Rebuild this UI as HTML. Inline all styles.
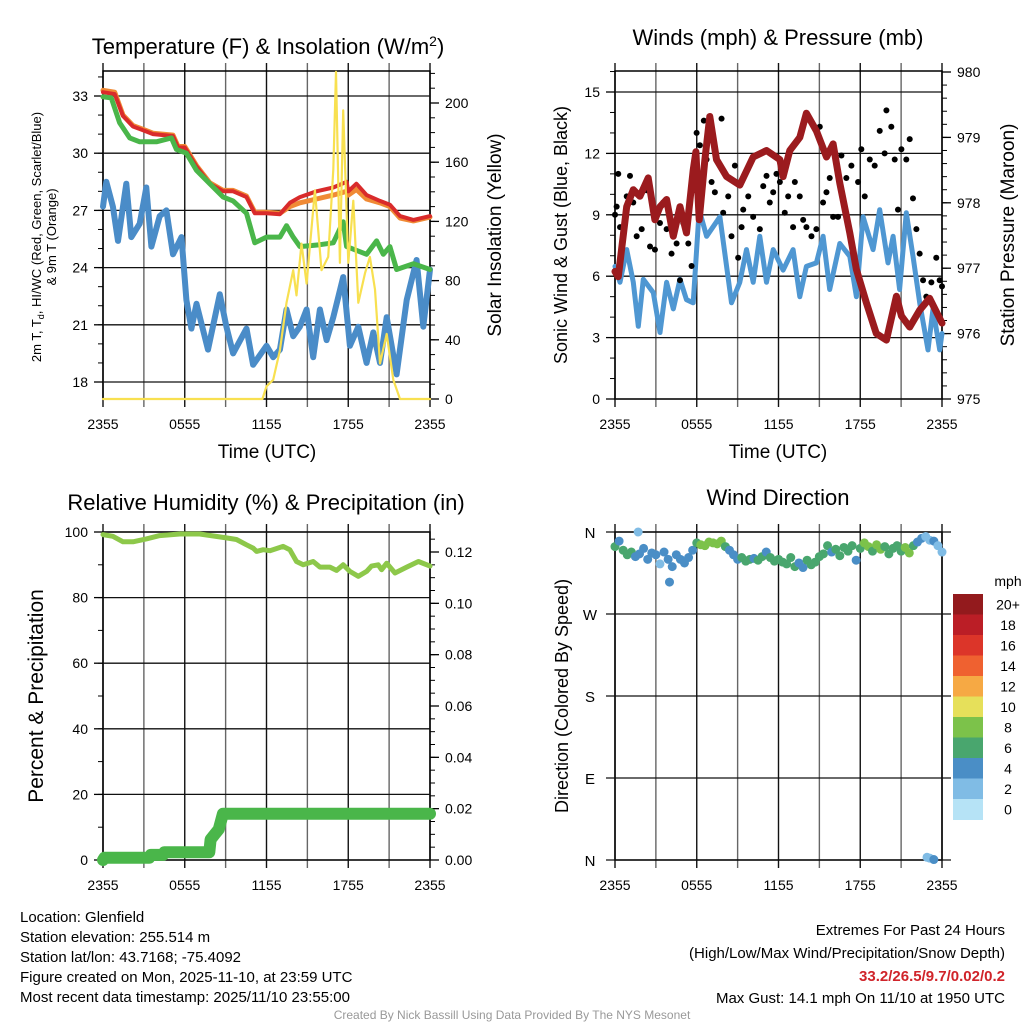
<!DOCTYPE html>
<html><head><meta charset="utf-8"><title>Glenfield Meteogram</title>
<style>
html,body{margin:0;padding:0;background:#fff;}
svg{display:block;font-family:"Liberation Sans",Arial,sans-serif;}
</style></head>
<body>
<svg id="chart" width="1024" height="1024" viewBox="0 0 1024 1024">
<rect x="0" y="0" width="1024" height="1024" fill="#fff"/>
<g id="layer"></g>
<text x="268" y="54" font-size="22" text-anchor="middle">Temperature (F) &amp; Insolation (W/m<tspan dy="-8" font-size="14">2</tspan><tspan dy="8">)</tspan></text>
<text x="778" y="45" font-size="22" text-anchor="middle">Winds (mph) &amp; Pressure (mb)</text>
<text x="266" y="510" font-size="22" text-anchor="middle">Relative Humidity (%) &amp; Precipitation (in)</text>
<text x="778" y="505" font-size="22" text-anchor="middle">Wind Direction</text>
<text x="267" y="458" font-size="19" text-anchor="middle">Time (UTC)</text>
<text x="778" y="458" font-size="19" text-anchor="middle">Time (UTC)</text>
<text transform="translate(41,237) rotate(-90)" font-size="13" text-anchor="middle">2m T, T<tspan dy="3" font-size="9">d</tspan><tspan dy="-3">, HI/WC (Red, Green, Scarlet/Blue)</tspan></text>
<text transform="translate(56,237) rotate(-90)" font-size="13" text-anchor="middle">&amp; 9m T (Orange)</text>
<text transform="translate(501,235) rotate(-90)" font-size="19" text-anchor="middle">Solar Insolation (Yellow)</text>
<text transform="translate(567,235) rotate(-90)" font-size="18" text-anchor="middle">Sonic Wind &amp; Gust (Blue, Black)</text>
<text transform="translate(1014,235) rotate(-90)" font-size="19" text-anchor="middle">Station Pressure (Maroon)</text>
<text transform="translate(43,696) rotate(-90)" font-size="21" text-anchor="middle">Percent &amp; Precipitation</text>
<text transform="translate(568,696) rotate(-90)" font-size="18" text-anchor="middle">Direction (Colored By Speed)</text>
<g font-size="15">
<text x="20" y="922">Location: Glenfield</text>
<text x="20" y="942">Station elevation: 255.514 m</text>
<text x="20" y="962">Station lat/lon: 43.7168; -75.4092</text>
<text x="20" y="982">Figure created on Mon, 2025-11-10, at 23:59 UTC</text>
<text x="20" y="1002">Most recent data timestamp: 2025/11/10 23:55:00</text>
</g>
<g font-size="15" text-anchor="end">
<text x="1005" y="935">Extremes For Past 24 Hours</text>
<text x="1005" y="958">(High/Low/Max Wind/Precipitation/Snow Depth)</text>
<text x="1005" y="981" fill="#d0242a" font-weight="bold">33.2/26.5/9.7/0.02/0.2</text>
<text x="1005" y="1003">Max Gust: 14.1 mph On 11/10 at 1950 UTC</text>
</g>
<text x="512" y="1019" font-size="12" fill="#999" text-anchor="middle">Created By Nick Bassill Using Data Provided By The NYS Mesonet</text>
</svg>
<script>
// ---------- Data (time in hours since 2355 UTC) ----------
const xTickLabels = ["2355","0555","1155","1755","2355"];
const tempT = [0,0.86,1.47,2.2,2.94,3.67,5.14,5.51,6.0,6.86,7.84,8.82,9.55,10.53,11.14,12.0,12.98,13.72,14.45,15.67,16.9,17.88,18.0,18.6,19.35,20.33,21.06,21.8,22.78,24];
const tempV = [33.2,33.1,31.95,31.4,31.2,31.0,30.9,30.3,30.3,29.3,28.4,28.0,28.0,27.7,26.85,26.85,26.8,27.4,27.7,28.0,28.2,28.5,28.0,28.4,27.8,27.5,27.3,26.7,26.5,26.7];
const temp9V = [33.3,33.2,32.0,31.45,31.25,31.05,30.95,30.35,30.35,29.35,28.45,28.05,28.05,27.75,26.9,26.9,26.85,27.2,27.4,27.6,27.8,28.0,27.8,28.1,27.6,27.4,27.2,26.6,26.45,26.65];
const hiT = [0,0.61,1.22,1.96,2.69,3.92,5.02,5.39,6.12,6.86,7.84,8.82,9.55,10.53,11.14,12,12.98,13.47,13.96,14.45,15.92,16.9,17.63,17.88,18.61,19.35,20.08,20.57,21.06,21.55,22.78,24];
const hiV = [32.96,32.9,31.6,30.8,30.6,30.6,30.8,30.2,30.0,29.1,28.4,27.7,27.5,26.85,25.3,25.6,25.6,26.2,25.6,25.1,25.2,25.3,26.4,25.1,24.9,24.7,25.4,24.7,25.1,23.9,24.2,23.9];
const dewT = [0,0.24,0.73,1.1,1.71,2.08,2.69,3.18,3.55,4.16,4.65,5.14,5.76,6.12,6.49,6.86,7.71,8.57,9.06,9.55,10.53,11.02,12,12.49,12.98,13.47,13.96,14.45,14.94,15.43,15.92,16.41,16.9,17.63,18.12,18.74,19.35,19.84,20.33,20.82,21.55,22.29,23.02,23.51,24];
const dewV = [27.2,28.5,27.2,25.4,28.4,25.6,26.3,28.2,25.1,26.7,27.0,24.7,25.6,22.3,20.8,22.1,19.7,22.6,20.9,19.5,20.8,18.9,19.9,19.3,19.7,21.8,20.4,20.9,21.8,19.3,21.8,20.2,21.4,23.5,19.9,20.9,19.0,20.6,19.0,21.4,18.4,22.3,24.4,20.9,23.9];
const solT = [0,11.7,12.0,12.49,12.98,13.47,13.96,14.2,14.57,14.94,15.55,16.04,16.53,16.9,17.1,17.39,17.63,18.0,18.37,18.74,19.23,19.59,19.96,20.33,20.82,21.31,21.8,24];
const solV = [0,0,8.5,13,33,65,87,70,105,78,141,87,96,155,221,92,195,92,134,65,85,96,74,24,44,13,0,0];
const windT = [0,0.37,0.86,1.34,1.71,2.08,2.81,3.3,3.79,4.28,4.77,5.25,5.74,6.18,6.72,7.7,8.55,9.16,9.65,10.14,10.63,11.12,11.61,12.34,13.07,13.56,14.05,14.78,15.27,15.76,16.5,17.23,17.72,18.21,18.94,19.43,20.04,20.41,20.89,21.38,21.87,22.36,22.97,23.34,23.83,24];
const windV = [6.48,5.7,7.3,5.7,3.55,5.85,5.2,3.25,5.7,4.4,5.85,4.85,4.7,9.25,7.95,8.9,4.7,5.7,7.3,5.7,7.95,5.7,7.3,6.3,7.3,5.0,6.48,6.65,7.95,5.35,7.6,6.97,5.0,8.9,7.3,9.25,6.65,7.95,5.35,9.1,6.97,4.7,2.4,4.4,2.4,3.2];
const gustT = [0,0.12,0.24,0.37,0.49,0.86,1.1,1.34,1.59,1.96,2.32,2.57,2.93,3.3,3.54,3.79,4.15,4.52,4.77,5.01,5.38,5.62,5.74,5.99,6.23,6.52,6.72,7.09,7.33,7.82,7.94,8.31,8.55,8.8,9.04,9.29,9.41,9.78,10.14,10.63,10.88,11.12,11.36,11.61,11.85,12.1,12.46,12.71,13.07,13.2,13.56,13.81,14.05,14.42,14.78,15.03,15.27,15.52,15.76,16.01,16.37,16.62,16.98,17.35,17.84,18.08,18.33,18.7,19.06,19.43,19.79,19.92,20.28,20.53,20.77,21.02,21.38,21.63,21.87,22.12,22.36,22.61,22.85,23.22,23.58,23.83,24];
const gustV = [9.0,9.4,11.0,8.4,7.45,9.9,10.9,9.6,7.95,8.3,10.2,7.45,7.3,8.6,9.6,8.3,7.1,7.6,5.8,8.6,7.6,6.5,10.2,13.0,12.4,13.6,11.7,10.6,10.1,13.7,9.1,9.9,7.95,11.4,6.9,8.4,9.25,9.9,8.9,8.3,10.4,10.9,9.6,10.1,11.0,10.6,9.1,9.9,8.4,10.6,9.9,8.75,8.4,7.95,8.3,13.3,9.6,10.1,10.8,8.9,8.9,11.9,10.8,11.4,10.6,12.2,9.9,11.7,11.4,13.1,12.0,14.1,13.3,11.7,9.25,12.2,11.7,12.7,9.8,8.3,7.1,5.8,5.0,5.7,6.9,5.8,5.5];
const presT = [0,0.24,0.86,1.34,1.83,2.44,2.93,3.3,3.79,4.28,4.77,5.25,5.74,5.94,6.18,6.6,6.96,7.45,8.19,9.16,10.14,11.12,12.1,12.34,12.83,13.56,14.05,14.78,15.52,16.01,16.5,17.23,17.72,18.45,19.18,19.92,20.65,21.02,21.63,22.36,23.09,24];
const presV = [976.95,976.87,977.94,978.2,978.1,978.38,977.74,977.94,978.05,977.49,977.94,977.54,978.5,978.78,977.74,978.66,979.32,978.66,978.4,978.27,978.7,978.8,978.66,978.4,978.8,979.0,979.37,979.1,978.7,978.9,978.3,977.54,976.98,976.47,976.0,975.9,976.57,976.27,976.1,976.36,976.54,976.16];
const rhT = [0,0.73,1.47,2.2,3.18,4.16,5.63,7.1,9.06,9.8,10.53,11.02,11.27,11.76,12.25,13.22,13.71,14.2,14.69,15.43,15.92,16.65,17.14,17.63,18.12,18.74,19.35,19.71,20.2,20.45,20.82,21.43,22.29,23.15,24];
const rhV = [99.2,98.7,97.0,97.0,97.9,98.9,99.4,99.4,98.2,97.7,96.1,95.1,94.1,94.6,94.3,95.6,94.6,91.0,90.0,91.0,89.3,89.3,88.3,90.0,88.0,86.5,88.0,89.6,90.0,88.5,90.5,87.5,89.3,91.0,89.6];
const precT = [0,0.1,3.4,3.5,4.4,4.5,7.8,7.9,8.2,8.5,8.8,24];
const precV = [0,0.0009,0.0009,0.002,0.002,0.003,0.003,0.008,0.010,0.012,0.018,0.018];
const dirT = [0,0.3,0.6,0.9,1.2,1.5,1.8,2.1,2.4,2.7,3.0,3.3,3.6,3.9,4.2,4.5,4.8,5.1,5.4,5.7,6.0,6.3,6.6,6.9,7.2,7.5,7.8,8.1,8.4,8.7,9.0,9.3,9.6,9.9,10.2,10.5,10.8,11.1,11.4,11.7,12.0,12.3,12.6,12.9,13.2,13.5,13.8,14.1,14.4,14.7,15.0,15.3,15.6,15.9,16.2,16.5,16.8,17.1,17.4,17.7,18.0,18.3,18.6,18.9,19.2,19.5,19.8,20.1,20.4,20.7,21.0,21.3,21.6,21.9,22.2,22.5,22.8,23.1,23.4,23.7,24.0,1.7,4.0,22.9,23.1,23.4];
const dirV = [344,350,340,335,338,333,336,342,330,337,335,325,338,330,322,335,330,326,332,340,348,346,345,349,348,347,350,344,340,335,330,332,328,330,331,329,333,338,332,328,330,327,325,332,322,326,321,329,324,327,333,336,345,338,341,334,343,339,345,329,342,348,344,339,346,341,344,336,342,345,339,343,337,345,349,353,355,351,350,345,338,360,305,3,2,0.5];
const speedBins = ["0","2","4","6","8","10","12","14","16","18","20+"];
const speedColors = ["#b6e3f6","#80bce5","#4a8ec6","#49a66e","#7cc24a","#e6e05a","#f6a944","#ef6130","#dc3529","#bb1e26","#931a1d"];

// ---------- Helpers ----------
const NS="http://www.w3.org/2000/svg";
const layer=document.getElementById('layer');
function mk(tag,attrs,parent){const e=document.createElementNS(NS,tag);for(const k in attrs)e.setAttribute(k,attrs[k]);(parent||layer).appendChild(e);return e;}
function lin(d0,d1,r0,r1){return v=>r0+(v-d0)*(r1-r0)/(d1-d0);}
function pathD(ts,vs,sx,sy){return ts.map((t,i)=>(i?'L':'M')+sx(t).toFixed(1)+' '+sy(vs[i]).toFixed(1)).join(' ');}
function interp(ts,vs,t){for(let i=1;i<ts.length;i++){if(t<=ts[i]){const f=(t-ts[i-1])/(ts[i]-ts[i-1]||1);return vs[i-1]+f*(vs[i]-vs[i-1]);}}return vs[vs.length-1];}

const P1={x0:103,x1:430,y0:71,y1:399};
const P2={x0:615,x1:942,y0:71,y1:399};
const P3={x0:103,x1:430,y0:532,y1:860};
const P4={x0:615,x1:942,y0:532,y1:860};

function frame(P,name){
  const sx=lin(0,24,P.x0,P.x1);
  for(let h=0;h<=24;h+=3){
    const g=mk('line',{x1:sx(h),x2:sx(h),y1:P.y0-8,y2:P.y1+8,stroke:(h%6===0)?'#111':'#666','stroke-width':1.4});
    
    
  }
  xTickLabels.forEach((lab,i)=>{
    const t=mk('text',{x:sx(i*6),y:P.y1+30,'font-size':14,'text-anchor':'middle'});t.textContent=lab;
    
    
  });
  const b=mk('rect',{x:P.x0,y:P.y0,width:P.x1-P.x0,height:P.y1-P.y0,fill:'none',stroke:'#000','stroke-width':1.5});
  
  
  return sx;
}
function yAxis(P,sy,m0,m1,minor,d0,d1,step,side,fmt,grid,name){
  const xa=side==='left'?P.x0:P.x1, dir=side==='left'?-1:1;
  for(let v=m0;v<=m1+1e-9;v+=minor){const y=sy(v);if(y<P.y0-0.5||y>P.y1+0.5)continue;
    const m=mk('line',{x1:xa,x2:xa+dir*5,y1:y,y2:y,stroke:'#000','stroke-width':1});
    
    }
  for(let v=d0;v<=d1+1e-9;v+=step){const y=sy(v);
    if(grid){const g=mk('line',{x1:P.x0,x2:P.x1,y1:y,y2:y,stroke:'#111','stroke-width':1.3});
      
      }
    const k=mk('line',{x1:xa,x2:xa+dir*9,y1:y,y2:y,stroke:'#000','stroke-width':1.3});
    
    
    const t=mk('text',{x:xa+dir*15,y:y+5,'font-size':14,'text-anchor':side==='left'?'end':'start'});t.textContent=fmt(v);
    
    }
}
function series(d,color,w,name){const p=mk('path',{d:d,fill:'none',stroke:color,'stroke-width':w,'stroke-linejoin':'round','stroke-linecap':'round'});
  
  return p;}

// ---------- Panel 1 ----------
{
  const sx=frame(P1,'temperature');
  const sy=lin(18,33,382,96), ss=lin(0,200,399,103);
  yAxis(P1,sy,17,35,1,18,33,3,'left',v=>v,true,'temperature-axis');
  yAxis(P1,ss,0,230,10,0,200,40,'right',v=>v,false,'insolation-axis');
  series(pathD(dewT,dewV,sx,sy),'#4a8cc8',6,'dewpoint-line');
  series(pathD(tempT,temp9V,sx,sy),'#f08a35',5,'temp-9m-line');
  series(pathD(tempT,tempV,sx,sy),'#d92b2b',4,'temp-2m-line');
  series(pathD(hiT,hiV,sx,sy),'#4ab64a',5,'heat-index-windchill-line');
  series(pathD(solT,solV,sx,ss),'#f8e050',2.2,'solar-insolation-line');
}
// ---------- Panel 2 ----------
{
  const sx=frame(P2,'wind');
  const sw=lin(0,15,399,92), sp=lin(975,980,399,72);
  yAxis(P2,sw,0,16,1,0,15,3,'left',v=>v,true,'wind-axis');
  yAxis(P2,sp,975,980,0.2,975,980,1,'right',v=>Math.round(v),false,'pressure-axis');
  series(pathD(windT,windV,sx,sw),'#4f97d2',5,'sonic-wind-line');
  gustT.forEach((t,i)=>{const c=mk('circle',{cx:sx(t),cy:sw(gustV[i]),r:3,fill:'#000'});
    
    });
  series(pathD(presT,presV,sx,sp),'#9b1b1e',7,'pressure-line');
}
// ---------- Panel 3 ----------
{
  const sx=frame(P3,'humidity');
  const sr=lin(0,100,860,532), sq=lin(0,0.12,860,552);
  yAxis(P3,sr,0,100,10,0,100,20,'left',v=>v,true,'humidity-axis');
  yAxis(P3,sq,0,0.125,0.005,0,0.12,0.02,'right',v=>v.toFixed(2),false,'precip-axis');
  series(pathD(rhT,rhV,sx,sr),'#8dc84a',5,'relative-humidity-line');
  series(pathD(precT,precV,sx,sq),'#4ab64a',12,'precipitation-line');
}
// ---------- Panel 4 ----------
{
  const sx=frame(P4,'direction');
  const sd=lin(0,360,860,532);
  const dirLabels=["N","E","S","W","N"];
  dirLabels.forEach((lab,i)=>{const y=sd(i*90);
    const g=mk('line',{x1:P4.x0-9,x2:P4.x1+9,y1:y,y2:y,stroke:'#111','stroke-width':1.3});
    
    
    const t=mk('text',{x:P4.x0-25,y:y+6,'font-size':15,'text-anchor':'middle'});t.textContent=lab;
    
    });
  dirT.forEach((t,i)=>{const sp=interp(windT,windV,t);const bin=Math.max(0,Math.min(10,Math.floor(sp/2)));
    const c=mk('circle',{cx:sx(t),cy:sd(dirV[i]),r:4.5,fill:speedColors[bin]});
    
    });
  const cbTop=594, cbH=20.5;
  const u=mk('text',{x:1008,y:586,'font-size':14,'text-anchor':'middle'});u.textContent='mph';
  
  
  for(let k=10;k>=0;k--){const y=cbTop+(10-k)*cbH;
    const r=mk('rect',{x:953,y:y,width:30,height:cbH+0.5,fill:speedColors[k]});
    
    
    const t=mk('text',{x:1008,y:y+cbH/2+5,'font-size':14,'text-anchor':'middle'});t.textContent=speedBins[k];
    
    }
}
</script>
</body></html>
